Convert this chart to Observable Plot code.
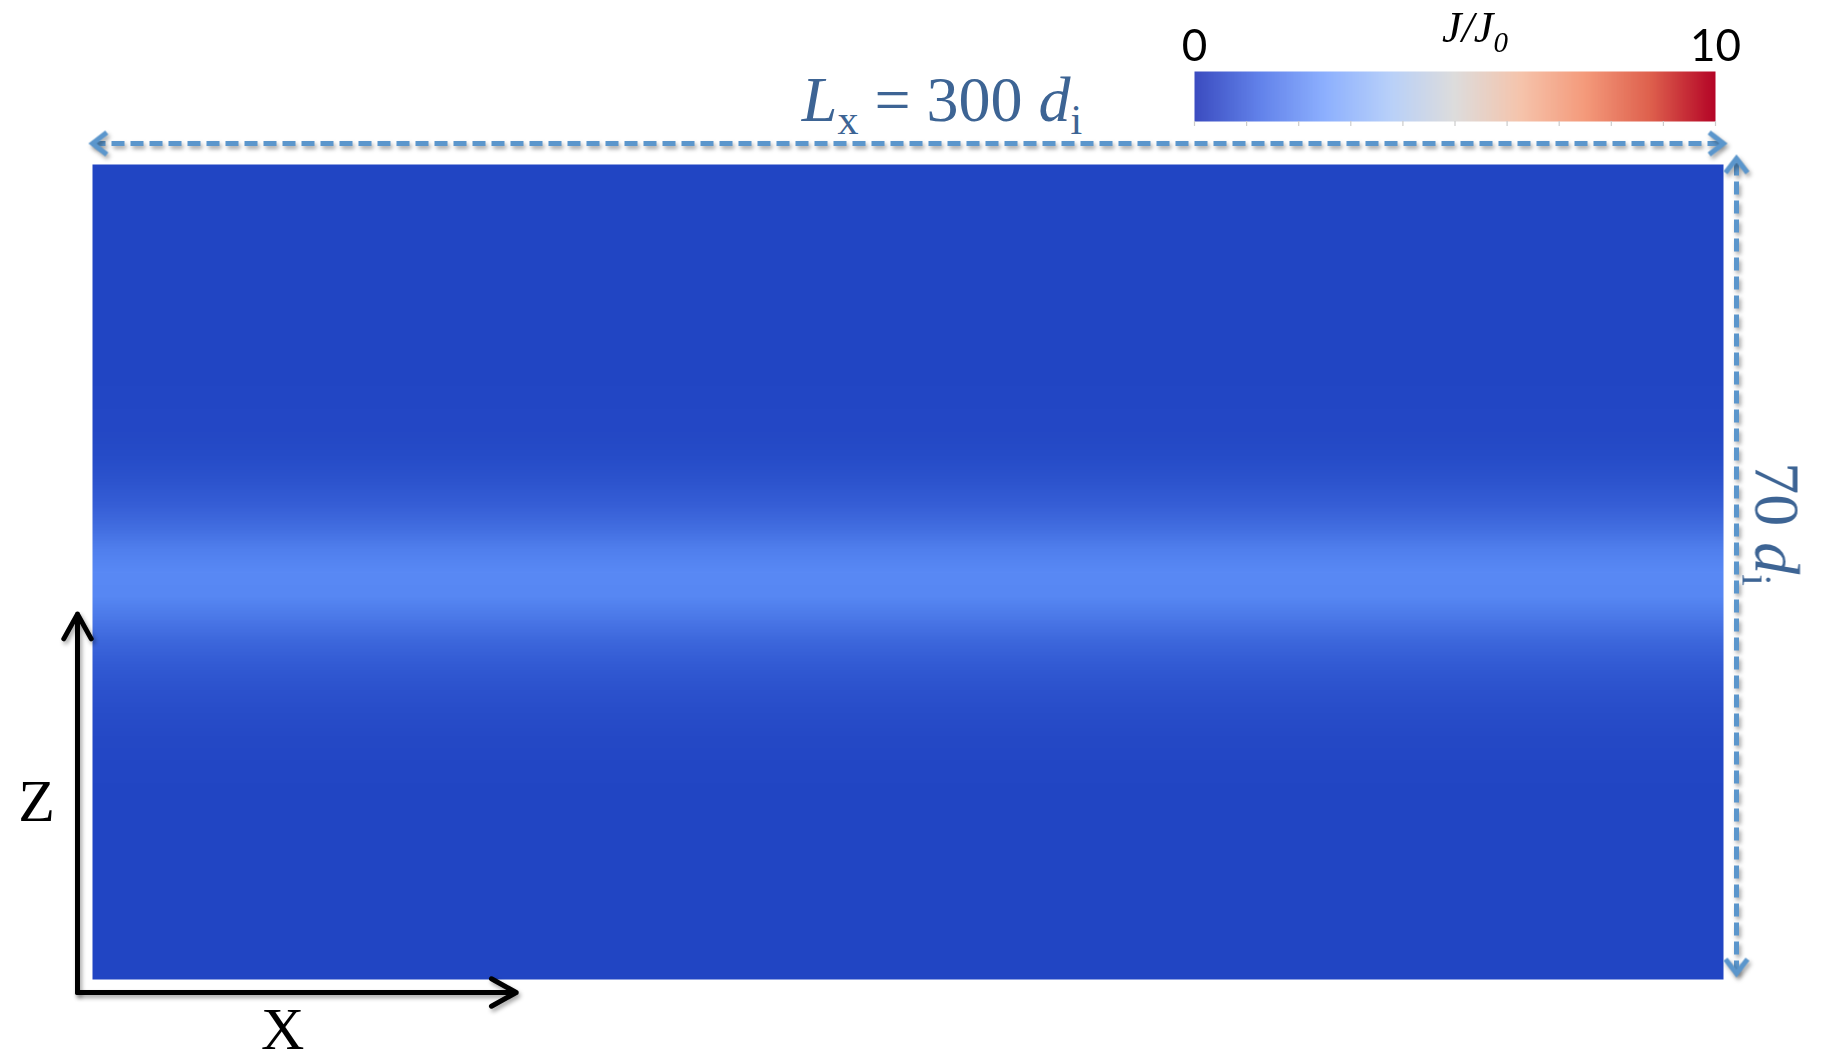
<!DOCTYPE html>
<html>
<head>
<meta charset="utf-8">
<script src="https://cdn.jsdelivr.net/npm/d3@7"></script>
<script src="https://cdn.jsdelivr.net/npm/@observablehq/plot@0.6"></script>
<style>
  html, body { margin: 0; padding: 0; background: #ffffff; }
  #wrap { position: relative; width: 1823px; height: 1061px; overflow: hidden; background: #ffffff; }
  #main { position: absolute; left: 0; top: 0; }
  #cbar { position: absolute; left: 1144px; top: 0; }
  .shadow { filter: drop-shadow(2px 3px 2px rgba(0,0,0,0.35)); }
</style>
</head>
<body>
<div id="wrap"><div id="main"></div><div id="cbar"></div></div>
<script>
// ---- Data ----
// Simulation box size in ion inertial lengths d_i
const boxLength = 300;   // L_x
const boxHeight = 70;    // L_z
// z-profile of the current density J/J0 (row centres, top to bottom, 2 d_i apart)
const zRowCenters = [69, 67, 65, 63, 61, 59, 57, 55, 53, 51, 49, 47, 45, 43, 41, 39, 37, 35,
                     33, 31, 29, 27, 25, 23, 21, 19, 17, 15, 13, 11, 9, 7, 5, 3, 1];
const currentDensity = [0, 0, 0, 0, 0, 0, 0, 0.01, 0.01, 0.02, 0.05, 0.07, 0.15, 0.31, 0.55, 0.87, 1.3, 1.54,
                        1.48, 1.12, 0.74, 0.48, 0.3, 0.18, 0.1, 0.05, 0.02, 0.01, 0, 0, 0, 0, 0, 0, 0];
// Colour bar
const colorbarDomain = [0, 10];
const colorbarTicks = [0, 1, 2, 3, 4, 5, 6, 7, 8, 9, 10];
const colorbarTickLabels = ["0", "10"];
const colorbarTickLabelValues = [0, 10];
const colorbarTitle = "J/J0";
const coolwarmStops = ["#3b4cc0", "#6282ea", "#8db0fe", "#b8d0f9", "#dddcdc", "#f5c4ac", "#f49a7b", "#de604d", "#b40426"];
// Annotation texts
const labelLx = "Lx = 300 di";
const labelLz = "70 di";
const axisLabelX = "X";
const axisLabelZ = "Z";

// ---- Styling / layout constants ----
const dimBlue = "#5b96cc";
const textBlue = "#3d6494";
const serif = "Liberation Serif, Times New Roman, serif";
const heatDomain = [0, 1.6, 3.5, 5, 7.5, 10];
const heatRange = ["#2145c3", "#5b8cf7", "#a9c6fd", "#dddcdc", "#f39a7c", "#b40426"];
const zArrowLength = 32.5;   // in d_i
const xArrowLength = 80.7;   // in d_i
const zLabelAt = 15.3;
const xLabelAt = 35;

// open chevron symbol (tip at the origin, pointing to +x)
const chevron = {
  draw(ctx, size) {
    const r = Math.sqrt(size / Math.PI);
    ctx.moveTo(-1.3 * r, -r);
    ctx.lineTo(0, 0);
    ctx.lineTo(-1.3 * r, r);
  }
};
const headStyle = {symbol: chevron, r: 11, stroke: dimBlue, strokeWidth: 5, fill: "none",
                   strokeLinejoin: "miter", strokeLinecap: "butt", className: "shadow"};

const main = Plot.plot({
  width: 1823, height: 1061,
  marginLeft: 92, marginRight: 100, marginTop: 164, marginBottom: 82,
  x: {domain: [0, boxLength], axis: null},
  y: {domain: [0, boxHeight], axis: null},
  color: {type: "linear", domain: heatDomain, range: heatRange, clamp: true},
  style: {background: "transparent", overflow: "visible"},
  marks: [
    Plot.raster(currentDensity, {
      width: 1, height: zRowCenters.length,
      x1: 0, x2: boxLength, y1: boxHeight, y2: 0,
      fill: Plot.identity, imageRendering: "auto"
    }),
    // horizontal dimension arrow
    Plot.link([boxLength], {
      x1: 0, x2: d => d, y1: boxHeight, y2: boxHeight, dy: -21,
      stroke: dimBlue, strokeWidth: 5, strokeDasharray: "13,6", className: "shadow"
    }),
    Plot.dot([[0, 180], [boxLength, 0]], {x: d => d[0], y: boxHeight, rotate: d => d[1], dy: -21, ...headStyle}),
    // vertical dimension arrow
    Plot.link([boxHeight], {
      x1: boxLength, x2: boxLength, y1: 0, y2: d => d, dx: 13, dy: -6,
      stroke: dimBlue, strokeWidth: 5, strokeDasharray: "13,6", className: "shadow"
    }),
    Plot.dot([[0, 90], [boxHeight, -90]], {x: boxLength, y: d => d[0], rotate: d => d[1], dx: 13, dy: -6, ...headStyle}),
    // coordinate axes arrows
    Plot.arrow([zArrowLength], {
      x1: 0, y1: 0, x2: 0, y2: d => d, dx: -15, dy: 13,
      stroke: "black", strokeWidth: 5, headLength: 8.5, headAngle: 58,
      strokeLinecap: "round", className: "shadow"
    }),
    Plot.arrow([xArrowLength], {
      x1: 0, y1: 0, x2: d => d, y2: 0, dx: -15, dy: 13,
      stroke: "black", strokeWidth: 5, headLength: 8.5, headAngle: 58,
      strokeLinecap: "round", className: "shadow"
    }),
    Plot.text([labelLx], {
      x: boxLength / 2, y: boxHeight, dx: 34, dy: -64, text: d => d,
      fontSize: 64, fontFamily: serif, fill: textBlue, className: "lbl-lx"
    }),
    Plot.text([labelLz], {
      x: boxLength, y: boxHeight / 2, dx: 52, dy: -48, rotate: 90, text: d => d,
      fontSize: 64, fontFamily: serif, fill: textBlue, className: "lbl-lz"
    }),
    Plot.text([axisLabelZ], {
      x: 0, y: zLabelAt, dx: -56, text: d => d,
      fontSize: 60, fontFamily: serif, fill: "black"
    }),
    Plot.text([axisLabelX], {
      x: xLabelAt, y: 0, dy: 50, text: d => d,
      fontSize: 60, fontFamily: serif, fill: "black"
    })
  ]
});
document.getElementById("main").appendChild(main);

const cbar = Plot.plot({
  width: 620, height: 140,
  marginLeft: 50, marginRight: 49, marginTop: 71, marginBottom: 19,
  x: {domain: colorbarDomain, axis: null},
  y: {domain: [0, 1], axis: null},
  color: {type: "linear", domain: d3.range(coolwarmStops.length).map(i => colorbarDomain[0] + i * (colorbarDomain[1] - colorbarDomain[0]) / (coolwarmStops.length - 1)), range: coolwarmStops},
  style: {background: "transparent", overflow: "visible"},
  marks: [
    Plot.raster({fill: (x, y) => x, x1: colorbarDomain[0], x2: colorbarDomain[1], y1: 0, y2: 1, width: 300, height: 1, imageRendering: "auto"}),
    Plot.ruleX(colorbarTicks, {x: d => d, y1: 0, y2: -0.1, stroke: "#cccccc", strokeWidth: 1.2}),
    Plot.text(colorbarTickLabelValues, {
      x: d => d, y: 1, dy: -25, text: (d, i) => colorbarTickLabels[i],
      fontSize: 44, fontFamily: "Lato, Open Sans, sans-serif", fill: "black"
    }),
    Plot.text([colorbarTitle], {
      x: (colorbarDomain[0] + colorbarDomain[1]) / 2, y: 1, dx: 20, dy: -44, text: d => d,
      fontSize: 44, fontFamily: serif, fontStyle: "italic", fill: "black", className: "lbl-j"
    })
  ]
});
document.getElementById("cbar").appendChild(cbar);

// rich text (italics / subscripts) for the labels
function richText(textSel, parts) {
  textSel.text(null);
  parts.forEach(p => {
    const ts = textSel.append("tspan").text(p.t);
    if (p.italic) ts.attr("font-style", "italic");
    if (p.size) ts.attr("font-size", p.size);
    if (p.dy) ts.attr("dy", p.dy);
  });
}
richText(d3.select(main).select("g.lbl-lx text"), [
  {t: "L", italic: true},
  {t: "x", size: 42, dy: 13},
  {t: " = 300 ", dy: -13},
  {t: "d", italic: true},
  {t: "i", size: 42, dy: 13}
]);
richText(d3.select(main).select("g.lbl-lz text"), [
  {t: "70 "},
  {t: "d", italic: true},
  {t: "i", size: 42, dy: 13}
]);
richText(d3.select(cbar).select("g.lbl-j text"), [
  {t: "J/J", italic: true},
  {t: "0", italic: true, size: 29, dy: 10}
]);
</script>
</body>
</html>
